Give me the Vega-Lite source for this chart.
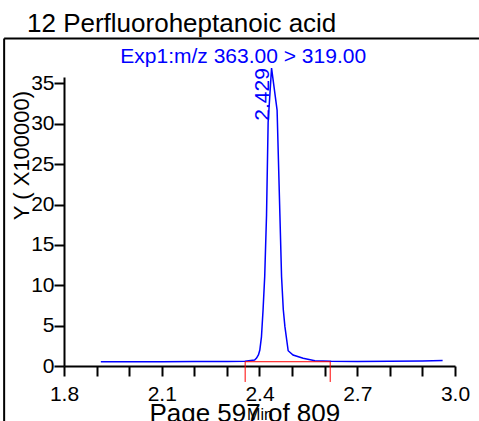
{
  "$schema": "https://vega.github.io/schema/vega-lite/v6.json",
  "width": 391,
  "height": 289,
  "autosize": {"type": "none"},
  "padding": {"left": 64, "top": 77, "right": 24, "bottom": 55},
  "background": "white",
  "config": {"view": {"stroke": null}, "font": "Liberation Sans"},
  "title": {"text": "12 Perfluoroheptanoic acid", "anchor": "start", "frame": "group", "dx": -37, "dy": 4, "fontSize": 26, "fontWeight": "normal", "color": "black", "font": "Liberation Sans"},
  "resolve": {"axis": {"x": "independent", "y": "independent"}},
  "datasets": {
    "trace": [
      {"rt": 1.913, "intensity": 0.53},
      {"rt": 2.0, "intensity": 0.53},
      {"rt": 2.1, "intensity": 0.54},
      {"rt": 2.2, "intensity": 0.55},
      {"rt": 2.3, "intensity": 0.57},
      {"rt": 2.355, "intensity": 0.6},
      {"rt": 2.385, "intensity": 0.75},
      {"rt": 2.391, "intensity": 0.99},
      {"rt": 2.397, "intensity": 1.4},
      {"rt": 2.401, "intensity": 1.98},
      {"rt": 2.406, "intensity": 3.6},
      {"rt": 2.411, "intensity": 7.0},
      {"rt": 2.416, "intensity": 11.1},
      {"rt": 2.4216, "intensity": 18.7},
      {"rt": 2.4265, "intensity": 30.2},
      {"rt": 2.437, "intensity": 36.9},
      {"rt": 2.454, "intensity": 31.7},
      {"rt": 2.4625, "intensity": 18.9},
      {"rt": 2.4677, "intensity": 11.06},
      {"rt": 2.473, "intensity": 7.0},
      {"rt": 2.478, "intensity": 4.87},
      {"rt": 2.488, "intensity": 1.89},
      {"rt": 2.503, "intensity": 1.36},
      {"rt": 2.534, "intensity": 0.95},
      {"rt": 2.57, "intensity": 0.66},
      {"rt": 2.62, "intensity": 0.58},
      {"rt": 2.7, "intensity": 0.57},
      {"rt": 2.8, "intensity": 0.58},
      {"rt": 2.9, "intensity": 0.62},
      {"rt": 2.962, "intensity": 0.68}
    ],
    "integration": [
      {"rt": 2.356, "rt2": 2.617, "intensity": 0.53, "intensity2": 0.53},
      {"rt": 2.356, "rt2": 2.356, "intensity": 0.53, "intensity2": -1.98},
      {"rt": 2.617, "rt2": 2.617, "intensity": 0.53, "intensity2": -1.98}
    ],
    "peaks": [
      {"rt": 2.429, "intensity": 36.9, "label": "2.429"}
    ]
  },
  "layer": [
    {
      "data": {"name": "trace"},
      "mark": {"type": "line", "color": "#0000FF", "strokeWidth": 1.5},
      "encoding": {
        "x": {
          "field": "rt", "type": "quantitative",
          "scale": {"domain": [1.8, 3.0], "nice": false, "zero": false},
          "axis": {
            "title": "Min", "titleFontSize": 16, "titleFontWeight": "normal", "titleColor": "black", "titlePadding": 2,
            "values": [1.8, 1.9, 2.0, 2.1, 2.2, 2.3, 2.4, 2.5, 2.6, 2.7, 2.8, 2.9, 3.0],
            "labelExpr": "(round(datum.value*10) % 3 == 0) ? format(datum.value, '.1f') : ''",
            "labelFontSize": 21, "labelColor": "black", "labelPadding": 7, "labelFlush": false, "labelOverlap": false,
            "tickSize": 10, "tickWidth": 2, "tickColor": "black",
            "domainWidth": 2, "domainColor": "black", "grid": false
          }
        },
        "y": {
          "field": "intensity", "type": "quantitative",
          "scale": {"domain": [0, 35.8], "nice": false},
          "axis": {
            "title": "Y ( X100000)", "titleFontSize": 22, "titleFontWeight": "normal", "titleColor": "black",
            "titleAngle": -90, "titleAlign": "center", "titleBaseline": "alphabetic", "titleX": -36, "titleY": 78,
            "values": [0, 5, 10, 15, 20, 25, 30, 35],
            "labelFontSize": 21, "labelColor": "black", "labelPadding": 0, "labelFlush": false, "labelOverlap": false,
            "tickSize": 10, "tickWidth": 2, "tickColor": "black",
            "domainWidth": 2, "domainColor": "black", "grid": false
          }
        }
      }
    },
    {
      "data": {"name": "integration"},
      "mark": {"type": "rule", "color": "#FF0000", "strokeWidth": 1},
      "encoding": {
        "x": {"field": "rt", "type": "quantitative", "axis": null},
        "x2": {"field": "rt2"},
        "y": {"field": "intensity", "type": "quantitative", "axis": null},
        "y2": {"field": "intensity2"}
      }
    },
    {
      "data": {"name": "peaks"},
      "mark": {"type": "text", "angle": 270, "align": "right", "baseline": "alphabetic", "fontSize": 21, "color": "#0000FF"},
      "encoding": {
        "x": {"field": "rt", "type": "quantitative", "axis": null},
        "y": {"field": "intensity", "type": "quantitative", "axis": null},
        "text": {"field": "label"}
      }
    },
    {
      "data": {"values": [{}]},
      "mark": {"type": "text", "align": "center", "baseline": "alphabetic", "fontSize": 21, "color": "#0000FF"},
      "encoding": {
        "x": {"datum": 2.35, "type": "quantitative", "axis": null},
        "y": {"datum": 37.53, "type": "quantitative", "axis": null},
        "text": {"value": "Exp1:m/z 363.00 > 319.00"}
      }
    },
    {
      "data": {"values": [{}]},
      "mark": {"type": "text", "align": "center", "baseline": "alphabetic", "fontSize": 26, "color": "black"},
      "encoding": {
        "x": {"datum": 2.355, "type": "quantitative", "axis": null},
        "y": {"datum": -6.93, "type": "quantitative", "axis": null},
        "text": {"value": "Page 597 of 809"}
      }
    },
    {
      "data": {"values": [{}]},
      "mark": {"type": "rule", "color": "black", "strokeWidth": 2},
      "encoding": {
        "x": {"datum": 1.6163, "type": "quantitative", "axis": null},
        "y": {"datum": 40.57, "type": "quantitative", "axis": null},
        "y2": {"datum": -8}
      }
    },
    {
      "data": {"values": [{}]},
      "mark": {"type": "rule", "color": "black", "strokeWidth": 2},
      "encoding": {
        "x": {"datum": 1.6163, "type": "quantitative", "axis": null},
        "x2": {"datum": 3.1},
        "y": {"datum": 40.57, "type": "quantitative", "axis": null}
      }
    }
  ]
}
